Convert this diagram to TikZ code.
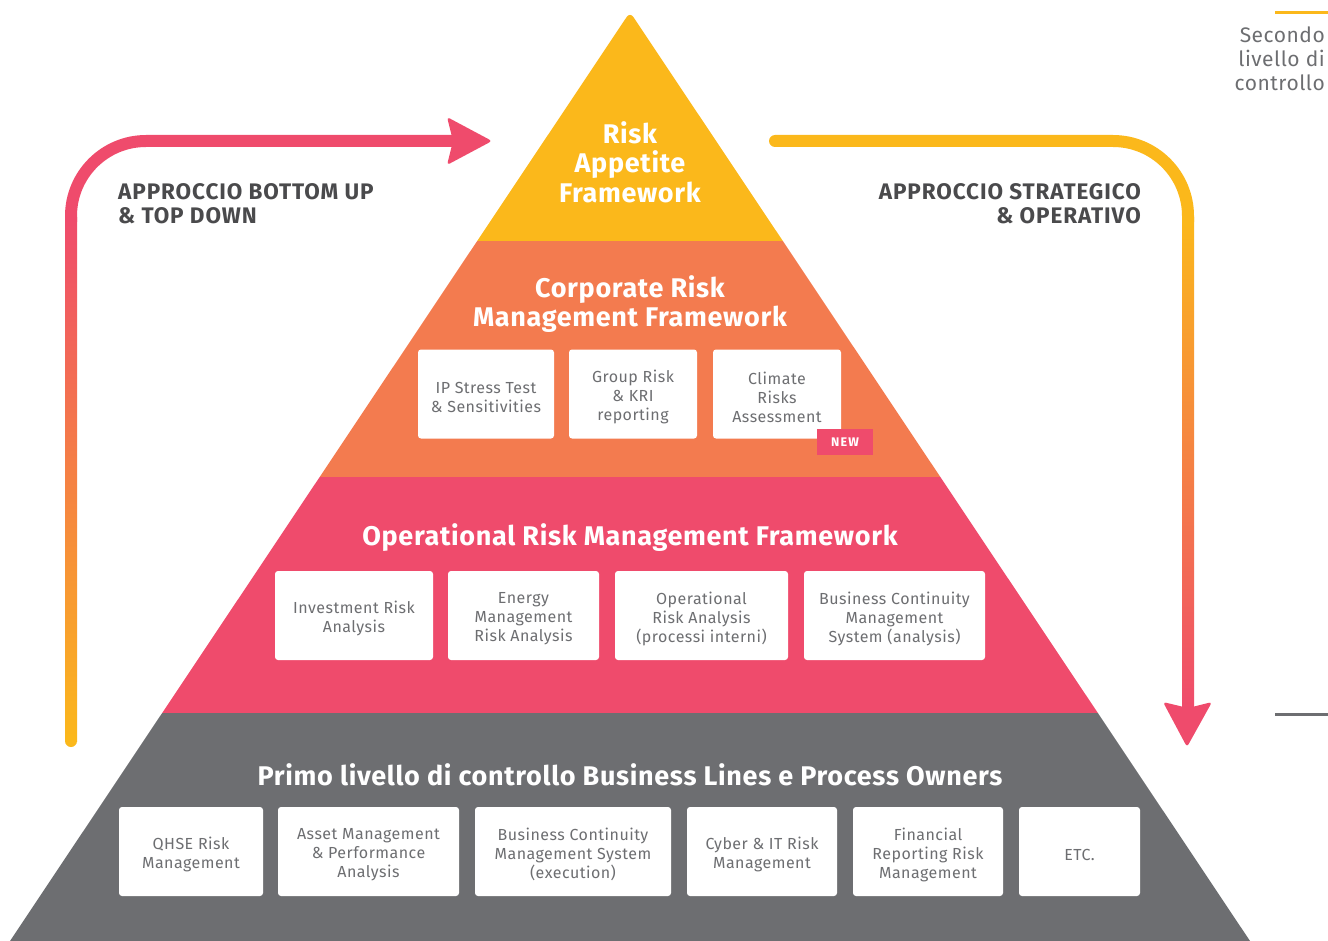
\documentclass[tikz,border=0pt]{standalone}
\usepackage{fontspec}
\setmainfont{Fira Sans}
\newfontfamily\titlefont[LetterSpace=2.5]{Fira Sans}
\newfontfamily\headfont[LetterSpace=4]{Fira Sans}
\newfontfamily\tagfont[LetterSpace=10]{Fira Sans}
\newfontfamily\boxfont[LetterSpace=3]{Fira Sans}
\newfontfamily\secfont[LetterSpace=2.5]{Fira Sans}
\definecolor{cyel}{HTML}{FBB81B}
\definecolor{corg}{HTML}{F37B4F}
\definecolor{cpink}{HTML}{EF4B6C}
\definecolor{cgray}{HTML}{6D6E71}
\definecolor{ctext}{HTML}{6D6E71}
\definecolor{chead}{HTML}{4A4A4C}
\tikzset{
  layertitle/.style={text=white, align=center, font=\titlefont\bfseries\fontsize{27}{29.5}\selectfont, inner sep=0pt},
  wbox/.style={fill=white, rounded corners=3, minimum height=89, inner sep=0pt},
  boxtext/.style={text=ctext, align=center, inner sep=0pt, yshift=-3, font=\boxfont\fontsize{16}{19}\selectfont},
  heading/.style={text=chead, font=\headfont\bfseries\fontsize{22.5}{24}\selectfont, inner sep=0pt},
  newtag/.style={fill=cpink, text=white, font=\tagfont\bfseries\fontsize{12.5}{12.5}\selectfont, minimum width=56, minimum height=26, inner sep=0pt},
  flow/.style={line width=12},
}
\begin{document}
\begin{tikzpicture}[x=1pt,y=-1pt]
\useasboundingbox (0,0) rectangle (1328,941);
% pyramid
\begin{scope}
\clip (10,941) [rounded corners=6]-- (630,12) [sharp corners]-- (1250,941) -- cycle;
\fill[cyel] (0,0) rectangle (1328,241);
\fill[corg] (0,241) rectangle (1328,477);
\fill[cpink] (0,477) rectangle (1328,713);
\fill[cgray] (0,713) rectangle (1328,941);
\end{scope}
% left arrow (bottom up)
\coordinate (Lbot) at (71,741);
\coordinate (Lmid) at (71,222);
\coordinate (Lcorner) at (71,141);
\coordinate (Lend) at (455,141);
\shade[top color=cpink, bottom color=cyel] (65,218) rectangle (77,741);
\fill[cyel] (Lbot) circle (6);
\draw[cpink, flow, rounded corners=75] (Lmid) -- (Lcorner) -- (Lend);
\fill[cpink, rounded corners=3] (492,141) -- (447,117) -- (453,141) -- (447,165) -- cycle;
% right arrow
\coordinate (Rstart) at (775,141);
\coordinate (Rcorner) at (1188,141);
\coordinate (Rmid) at (1188,222);
\shade[top color=cyel, bottom color=cpink] (1182,218) rectangle (1194,708);
\draw[cyel, flow, line cap=round, rounded corners=75] (Rstart) -- (Rcorner) -- (Rmid);
\fill[cpink, rounded corners=3] (1187,747) -- (1163,702) -- (1188,708) -- (1212,702) -- cycle;
% headings
\node[heading, anchor=west, align=left] (hl) at (118,204) {APPROCCIO BOTTOM UP\\\& TOP DOWN};
\node[heading, anchor=east, align=right] (hr) at (1141,204) {APPROCCIO STRATEGICO\\\& OPERATIVO};
% top right
\draw[cyel, line width=3] (1275,13) -- (1328,13);
\draw[cgray, line width=3] (1275,714) -- (1328,714);
\node[anchor=east, align=right, text=cgray, inner sep=0pt, font=\secfont\fontsize{21}{24}\selectfont] (sec) at (1325,59) {Secondo\\livello di\\controllo};
% layer titles
\node[layertitle] (raf) at (630,162) {Risk\\Appetite\\Framework};
\node[layertitle] (crm) at (630,304) {Corporate Risk\\Management Framework};
\node[layertitle] (orm) at (630,538) {Operational Risk Management Framework};
\node[layertitle] (pl) at (630,775) {Primo livello di controllo Business Lines e Process Owners};
% orange boxes
\node[wbox, minimum width=136, label={[boxtext]center:{IP Stress Test\\\& Sensitivities}}] (b1) at (486,394) {};
\node[wbox, minimum width=128, label={[boxtext]center:{Group Risk\\\& KRI\\reporting}}] (b2) at (633,394) {};
\node[wbox, minimum width=128, label={[boxtext]center:{Climate\\Risks\\Assessment}}] (b3) at (777,394) {};
\node[newtag] (new) at (845,442) {NEW};
% pink boxes
\node[wbox, minimum width=158, label={[boxtext]center:{Investment Risk\\Analysis}}] (c1) at (354,615.5) {};
\node[wbox, minimum width=151, label={[boxtext]center:{Energy\\Management\\Risk Analysis}}] (c2) at (523.5,615.5) {};
\node[wbox, minimum width=173, label={[boxtext]center:{Operational\\Risk Analysis\\(processi interni)}}] (c3) at (701.5,615.5) {};
\node[wbox, minimum width=181, label={[boxtext]center:{Business Continuity\\Management\\System (analysis)}}] (c4) at (894.5,615.5) {};
% gray boxes
\node[wbox, minimum width=144, label={[boxtext]center:{QHSE Risk\\Management}}] (d1) at (191,851.5) {};
\node[wbox, minimum width=181, label={[boxtext]center:{Asset Management\\\& Performance\\Analysis}}] (d2) at (368.5,851.5) {};
\node[wbox, minimum width=196, label={[boxtext]center:{Business Continuity\\Management System\\(execution)}}] (d3) at (573,851.5) {};
\node[wbox, minimum width=150, label={[boxtext]center:{Cyber \& IT Risk\\Management}}] (d4) at (762,851.5) {};
\node[wbox, minimum width=150, label={[boxtext]center:{Financial\\Reporting Risk\\Management}}] (d5) at (928,851.5) {};
\node[wbox, minimum width=121, label={[boxtext]center:{ETC.}}] (d6) at (1079.5,851.5) {};
\end{tikzpicture}
\end{document}
